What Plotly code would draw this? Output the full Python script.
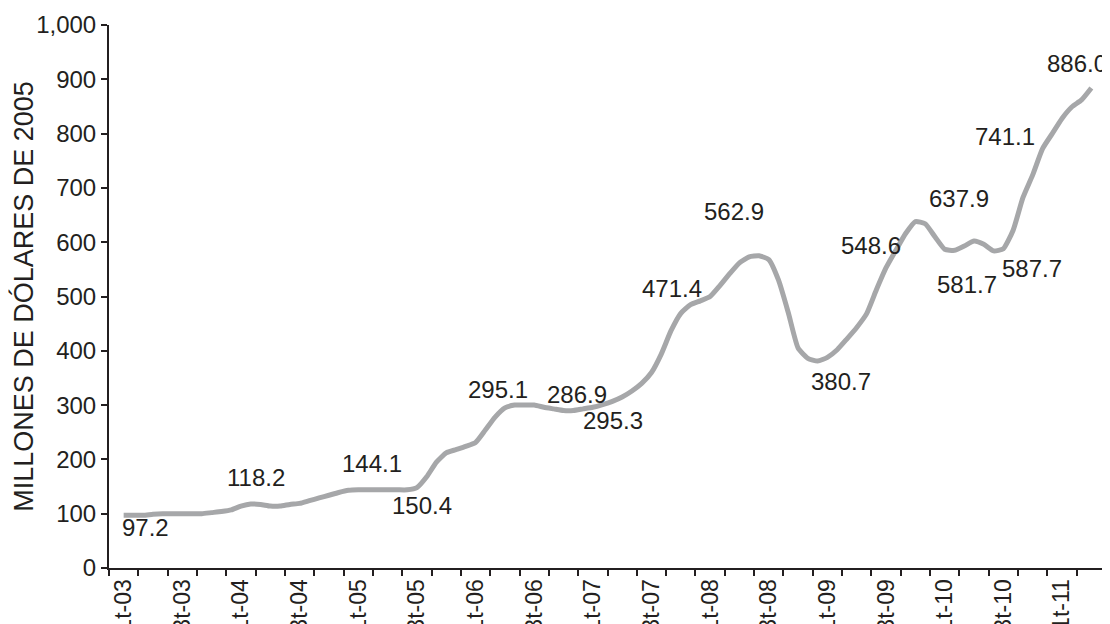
import plotly.graph_objects as go

# Quarter categories (1t-03 .. 2t-11)
quarters = []
for yr in range(3, 12):
    for q in range(1, 5):
        quarters.append(f"{q}t-{yr:02d}")
quarters = quarters[:34]

# Line read at monthly resolution (3 readings per quarter)
values = [
    97, 97, 97, 99, 100, 100, 100, 100, 100, 102,
    104, 107, 114, 118, 117, 114, 114, 117, 119, 124,
    129, 134, 139, 143, 144, 144, 144, 144, 144, 144,
    148, 168, 195, 212, 218, 224, 231, 254, 278, 295,
    300, 300, 300, 296, 293, 290, 290, 293, 296, 301,
    307, 315, 326, 340, 360, 394, 437, 469, 485, 492,
    500, 520, 542, 562, 573, 575, 568, 530, 470, 405,
    386, 381, 388, 402, 422, 443, 468, 512, 553, 585,
    616, 638, 634, 610, 587, 585, 593, 602, 596, 584,
    588, 622, 682, 724, 772, 800, 828, 849, 862, 884,
]
x_pos = [i / 3 for i in range(len(values))]

label_texts = ["97.2", "118.2", "144.1", "150.4", "295.1", "286.9", "295.3",
               "471.4", "562.9", "380.7", "548.6", "637.9", "581.7", "587.7",
               "741.1", "886.0"]
label_x = [0.73, 4.5, 8.47, 10.18, 12.75, 15.46, 16.7, 18.71, 20.8, 24.47,
           25.49, 28.5, 28.75, 30.97, 30.05, 32.5]
label_y = [74, 166, 192, 115, 329, 320, 271, 515, 656, 344, 594, 680, 522,
           551, 795, 929]

y_ticks = list(range(0, 1001, 100))

FONT = "Liberation Sans, Arial, sans-serif"
INK = "#231f20"

fig = go.Figure()
fig.add_trace(go.Scatter(
    x=x_pos, y=values, mode="lines",
    line=dict(color="#a6a7a9", width=5, shape="spline", smoothing=0.5),
    hoverinfo="skip", showlegend=False,
))

for t, lx, ly in zip(label_texts, label_x, label_y):
    fig.add_annotation(x=lx, y=ly, text=t, showarrow=False,
                       font=dict(family=FONT, size=24, color=INK),
                       xanchor="center", yanchor="middle")

label_idx = list(range(0, 34, 2))
# page body adds an 8px offset, so the figure is sized to fit the window
fig.update_layout(
    width=1102, height=616,
    margin=dict(l=101, r=4, t=17, b=56),
    paper_bgcolor="white", plot_bgcolor="white",
    font=dict(family=FONT, size=24, color=INK),
    xaxis=dict(
        range=[-0.5, 33.5], showgrid=False, zeroline=False, automargin=False,
        showline=True, linecolor=INK, linewidth=2,
        tickmode="array", tickvals=label_idx,
        ticktext=[quarters[i] for i in label_idx],
        ticks="", tickangle=-90,
        tickfont=dict(family=FONT, size=23, color=INK),
        minor=dict(tickmode="array", tickvals=[i - 0.5 for i in range(35)],
                   ticks="outside", ticklen=6, tickwidth=2, tickcolor=INK,
                   showgrid=False),
    ),
    yaxis=dict(
        range=[0, 1000], showgrid=False, zeroline=False, automargin=False,
        showline=True, linecolor=INK, linewidth=2,
        tickmode="array", tickvals=y_ticks,
        ticktext=[f"{v:,}" for v in y_ticks],
        ticks="outside", ticklen=6, tickwidth=2, tickcolor=INK,
        tickfont=dict(family=FONT, size=24, color=INK),
        title=dict(text="MILLONES DE DÓLARES DE 2005",
                   font=dict(family=FONT, size=27, color=INK),
                   standoff=3),
    ),
)

fig.write_html("out.html")
